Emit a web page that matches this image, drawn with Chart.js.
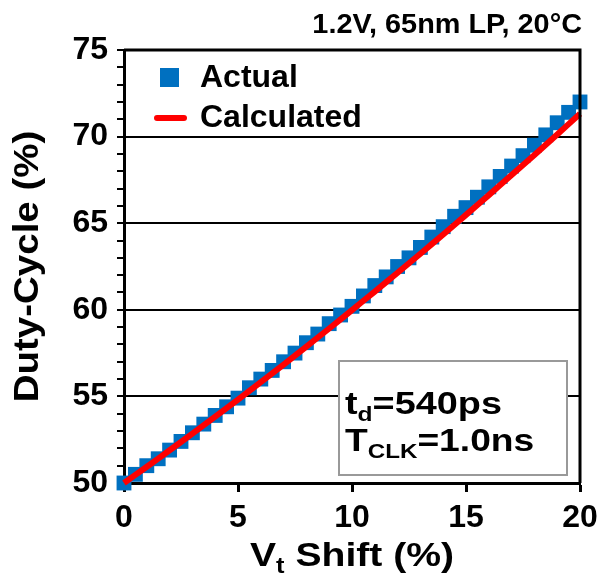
<!DOCTYPE html>
<html>
<head>
<meta charset="utf-8">
<script src="https://cdn.jsdelivr.net/npm/chart.js@4.4.1/dist/chart.umd.min.js"></script>
<style>
  html, body { margin: 0; padding: 0; background: #fff; }
  #wrap { width: 606px; height: 584px; }
</style>
</head>
<body>
<div id="wrap"><canvas id="chart" width="606" height="584"></canvas></div>
<script>
// Vt shift (%) sampled every 0.5 %
const vtShift = [0, 0.5, 1, 1.5, 2, 2.5, 3, 3.5, 4, 4.5, 5, 5.5, 6, 6.5, 7, 7.5, 8, 8.5, 9, 9.5,
  10, 10.5, 11, 11.5, 12, 12.5, 13, 13.5, 14, 14.5, 15, 15.5, 16, 16.5, 17, 17.5, 18, 18.5, 19, 19.5, 20];

// measured duty-cycle (%)
const actualDuty = [50.0, 50.5, 51.0, 51.4, 51.9, 52.4, 52.9, 53.4, 53.9, 54.4, 54.9, 55.5, 56.0, 56.5,
  57.0, 57.5, 58.1, 58.6, 59.2, 59.7, 60.2, 60.8, 61.4, 61.9, 62.5, 63.0, 63.6, 64.2, 64.8, 65.4,
  65.9, 66.5, 67.1, 67.7, 68.3, 68.9, 69.5, 70.1, 70.8, 71.4, 72.0];

// model duty-cycle (%)
const calcDuty = [50.0, 50.47, 50.94, 51.41, 51.89, 52.37, 52.85, 53.34, 53.83, 54.32, 54.82, 55.32,
  55.82, 56.33, 56.84, 57.36, 57.87, 58.40, 58.92, 59.45, 59.98, 60.52, 61.05, 61.60, 62.14, 62.69,
  63.24, 63.79, 64.35, 64.91, 65.48, 66.05, 66.62, 67.20, 67.78, 68.36, 68.94, 69.53, 70.12, 70.72, 71.32];

const seriesNames = ['Actual', 'Calculated'];
const cornerNote = '1.2V, 65nm LP, 20°C';

const BLUE = '#0070C0';
const RED = '#FF0000';
const FONT = '"Liberation Sans", Arial, sans-serif';

// texte avec indices (t_d, T_CLK, V_t)
function drawRich(ctx, parts, x, y, size, align, sx) {
  ctx.save();
  ctx.textBaseline = 'alphabetic';
  ctx.textAlign = 'left';
  let w = 0;
  parts.forEach(p => {
    ctx.font = 'bold ' + (p.sub ? size * 0.65 : size) + 'px ' + FONT;
    w += ctx.measureText(p.t).width;
  });
  ctx.translate(x, y);
  ctx.scale(sx, 1);
  let cx = align === 'center' ? -w / 2 : (align === 'right' ? -w : 0);
  parts.forEach(p => {
    ctx.font = 'bold ' + (p.sub ? size * 0.65 : size) + 'px ' + FONT;
    ctx.fillText(p.t, cx, p.sub ? size * 0.22 : 0);
    cx += ctx.measureText(p.t).width;
  });
  ctx.restore();
}

const decorations = {
  id: 'decorations',
  afterDraw(chart) {
    const ctx = chart.ctx;
    const a = chart.chartArea;
    ctx.save();
    ctx.fillStyle = '#000';

    // cadre haut / droite
    ctx.strokeStyle = '#000';
    ctx.lineWidth = 3;
    ctx.beginPath();
    ctx.moveTo(a.left, a.top);
    ctx.lineTo(a.right, a.top);
    ctx.lineTo(a.right, a.bottom);
    ctx.stroke();

    // note en haut à droite
    drawRich(ctx, [{ t: cornerNote }], 582, 33, 28, 'right', 1.03);

    // légende
    ctx.fillStyle = BLUE;
    ctx.fillRect(160, 68, 19, 19);
    ctx.strokeStyle = RED;
    ctx.lineWidth = 6;
    ctx.lineCap = 'round';
    ctx.beginPath();
    ctx.moveTo(157, 118);
    ctx.lineTo(184, 118);
    ctx.stroke();
    ctx.fillStyle = '#000';
    ctx.font = 'bold 32px ' + FONT;
    ctx.textBaseline = 'middle';
    ctx.fillText(seriesNames[0], 200, 78);
    ctx.fillText(seriesNames[1], 200, 118);

    // encadré t_d / T_CLK
    ctx.fillStyle = '#fff';
    ctx.fillRect(339, 361, 228, 114);
    ctx.strokeStyle = '#999';
    ctx.lineWidth = 2;
    ctx.lineCap = 'butt';
    ctx.strokeRect(339, 361, 228, 114);
    ctx.fillStyle = '#000';
    drawRich(ctx, [{ t: 't' }, { t: 'd', sub: true }, { t: '=540ps' }], 345, 414, 31, 'left', 1.22);
    drawRich(ctx, [{ t: 'T' }, { t: 'CLK', sub: true }, { t: '=1.0ns' }], 345, 451, 31, 'left', 1.2);

    // titres des axes
    drawRich(ctx, [{ t: 'V' }, { t: 't', sub: true }, { t: ' Shift (%)' }], (a.left + a.right) / 2, 566, 34, 'center', 1.15);
    ctx.save();
    ctx.translate(38, (a.top + a.bottom) / 2);
    ctx.rotate(-Math.PI / 2);
    drawRich(ctx, [{ t: 'Duty-Cycle (%)' }], 0, 0, 35, 'center', 1.1);
    ctx.restore();

    ctx.restore();
  }
};

const toPoints = ys => vtShift.map((x, i) => ({ x: x, y: ys[i] }));

new Chart(document.getElementById('chart'), {
  type: 'scatter',
  data: {
    datasets: [
      {
        label: seriesNames[1],
        data: toPoints(calcDuty),
        showLine: true,
        borderColor: RED,
        borderWidth: 6,
        pointRadius: 0,
        tension: 0,
        clip: false,
        order: 0
      },
      {
        label: seriesNames[0],
        data: toPoints(actualDuty),
        pointStyle: 'rect',
        pointRadius: 10.5,
        backgroundColor: BLUE,
        borderWidth: 0,
        clip: false,
        order: 1
      }
    ]
  },
  options: {
    responsive: false,
    animation: false,
    layout: { padding: { top: 50, right: 26, left: 0, bottom: 0 } },
    plugins: {
      legend: { display: false },
      tooltip: { enabled: false }
    },
    scales: {
      x: {
        type: 'linear',
        min: 0,
        max: 20,
        afterFit: s => { s.height = 101; },
        ticks: {
          stepSize: 5,
          padding: 7,
          color: '#000',
          font: { family: FONT, size: 32, weight: 'bold' }
        },
        grid: { drawOnChartArea: false, tickLength: 9, tickWidth: 3, tickColor: '#000' },
        border: { display: true, color: '#000', width: 3 }
      },
      y: {
        min: 50,
        max: 75,
        afterFit: s => { s.width = 124; },
        ticks: {
          stepSize: 1,
          autoSkip: false,
          padding: 9,
          color: '#000',
          font: { family: FONT, size: 32, weight: 'bold' },
          callback: v => (v % 5 === 0 ? v : '')
        },
        grid: {
          color: c => (c.tick && c.tick.value % 5 === 0 ? '#000' : 'rgba(0,0,0,0)'),
          lineWidth: 2,
          tickColor: '#000',
          tickLength: 7,
          tickWidth: 2
        },
        border: { display: true, color: '#000', width: 3 }
      }
    }
  },
  plugins: [decorations]
});
</script>
</body>
</html>
